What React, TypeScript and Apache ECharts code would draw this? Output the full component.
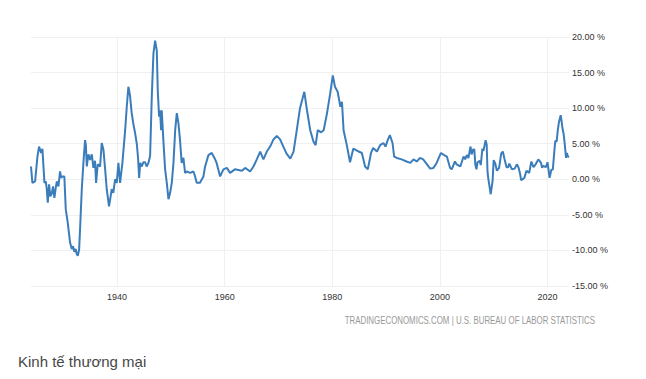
import React, { useEffect, useRef } from "react";
import * as echarts from "echarts";

// Year (decimal) of each reading
const years: number[] = [
  1924.0, 1924.26, 1924.76, 1925.2, 1925.5, 1925.87, 1926.12, 1926.5, 1926.75, 1926.93,
  1927.12, 1927.36, 1927.6, 1927.86, 1928.1, 1928.35, 1928.6, 1928.8, 1929.1, 1929.4,
  1929.6, 1929.83, 1930.2, 1930.46, 1930.83, 1931.26, 1931.58, 1931.8, 1932.06, 1932.3,
  1932.5, 1932.7, 1932.94, 1933.12, 1933.44, 1933.74, 1934.05, 1934.2, 1934.37, 1934.67,
  1934.98, 1935.3, 1935.6, 1935.9, 1936.1, 1936.4, 1936.84, 1937.15, 1937.46, 1937.77,
  1938.08, 1938.5, 1938.7, 1939.0, 1939.3, 1939.63, 1939.94, 1940.25, 1940.56, 1940.99,
  1941.5, 1941.8, 1942.1, 1942.4, 1942.7, 1943.0, 1943.35, 1943.66, 1943.9, 1944.1,
  1944.3, 1944.59, 1944.9, 1945.2, 1945.5, 1945.83, 1946.14, 1946.45, 1946.76, 1947.07,
  1947.38, 1947.56, 1947.81, 1947.99, 1948.18, 1948.3, 1948.6, 1948.93, 1949.24, 1949.55,
  1949.86, 1950.17, 1950.48, 1950.8, 1951.1, 1951.4, 1951.7, 1952.0, 1952.33, 1952.64,
  1952.95, 1953.57, 1954.2, 1954.5, 1954.8, 1955.4, 1956.05, 1956.36, 1956.98, 1957.6,
  1958.1, 1958.5, 1959.15, 1959.77, 1960.4, 1961.0, 1961.9, 1963.2, 1963.8, 1964.73,
  1965.35, 1965.97, 1966.6, 1967.2, 1967.83, 1968.45, 1969.07, 1969.69, 1970.3, 1970.9,
  1971.5, 1972.2, 1972.8, 1973.4, 1974.0, 1974.8, 1975.3, 1975.9, 1976.5, 1976.9,
  1977.3, 1977.9, 1978.4, 1979.0, 1979.6, 1980.1, 1980.5, 1981.0, 1981.5, 1981.8,
  1982.1, 1982.7, 1983.3, 1983.9, 1984.2, 1984.9, 1985.5, 1986.1, 1986.6, 1987.2,
  1987.6, 1988.3, 1988.9, 1989.5, 1989.9, 1990.3, 1990.7, 1991.2, 1991.5, 1992.0,
  1992.9, 1993.8, 1994.5, 1995.1, 1995.7, 1996.3, 1996.9, 1997.6, 1998.2, 1998.8,
  1999.4, 2000.2, 2000.8, 2001.3, 2001.9, 2002.2, 2002.8, 2003.1, 2003.8, 2004.4,
  2004.7, 2005.0, 2005.3, 2005.7, 2005.9, 2006.2, 2006.4, 2006.6, 2006.8, 2007.0,
  2007.4, 2007.6, 2007.9, 2008.1, 2008.5, 2008.7, 2008.85, 2009.0, 2009.45, 2009.8,
  2010.0, 2010.3, 2010.6, 2011.0, 2011.4, 2011.7, 2012.0, 2012.4, 2012.7, 2012.9,
  2013.4, 2013.9, 2014.3, 2014.6, 2014.9, 2015.1, 2015.4, 2015.7, 2016.1, 2016.6,
  2017.0, 2017.4, 2017.8, 2018.3, 2018.8, 2019.0, 2019.2, 2019.7, 2020.0, 2020.4,
  2020.7, 2021.0, 2021.3, 2021.45, 2021.7, 2021.9, 2022.1, 2022.45, 2022.6, 2022.8,
  2023.0, 2023.2, 2023.45, 2023.6, 2023.8, 2024.0,
];

// Inflation rate (%) at each of those dates
const inflation: number[] = [
  1.8, -0.5, -0.3, 3.2, 4.6, 3.7, 4.3, -0.5, -0.3, -1.4,
  -3.3, -0.7, -2.4, -2.0, -1.0, -2.6, -1.2, -0.3, -1.0, 1.1,
  0.2, 0.4, 0.4, -4.2, -6.1, -8.9, -9.8, -9.4, -10.2, -9.8,
  -10.5, -10.75, -9.9, -7.0, -1.4, 2.3, 5.5, 4.8, 1.8, 3.5,
  2.7, 3.5, 1.6, 2.6, -0.5, 2.1, 1.8, 5.1, 4.2, 1.5,
  -1.4, -3.8, -2.9, -1.4, -1.9, 0.0, -0.5, 2.3, -0.5, 2.3,
  6.9, 10.2, 13.0, 11.8, 9.4, 7.9, 6.5, 5.0, 3.0, 0.2,
  2.3, 1.8, 2.4, 2.4, 1.8, 2.3, 3.3, 11.6, 17.7, 19.5,
  18.1, 12.5, 8.8, 9.7, 6.9, 9.7, 5.5, 1.4, -0.5, -2.8,
  -1.9, -0.5, 2.3, 6.9, 9.3, 7.9, 5.5, 2.3, 3.0, 0.9,
  1.1, 0.9, 1.1, 0.4, -0.5, -0.5, 0.4, 1.8, 3.4, 3.7,
  3.0, 2.3, 0.4, 1.4, 1.6, 0.9, 1.4, 1.2, 1.6, 1.1,
  1.8, 2.8, 3.9, 2.8, 3.9, 4.6, 5.6, 6.1, 5.6, 4.6,
  3.6, 2.9, 3.9, 6.9, 10.0, 12.3, 9.7, 6.9, 5.3, 4.8,
  6.9, 6.6, 6.9, 9.2, 12.0, 14.6, 13.0, 12.3, 10.2, 10.9,
  6.9, 4.8, 2.4, 4.3, 4.2, 3.9, 3.7, 1.8, 1.4, 3.7,
  4.4, 3.9, 4.8, 5.1, 4.6, 5.5, 6.2, 5.1, 3.2, 3.0,
  2.8, 2.5, 2.3, 2.8, 2.5, 3.0, 2.8, 2.1, 1.5, 1.6,
  2.3, 3.7, 3.4, 3.2, 1.6, 1.4, 2.5, 2.1, 1.8, 3.2,
  2.8, 3.4, 3.0, 4.6, 3.5, 4.2, 4.2, 2.0, 1.4, 2.4,
  2.6, 2.0, 4.3, 4.0, 5.5, 4.9, 1.1, 0.1, -2.1, -0.2,
  2.7, 2.2, 1.2, 1.6, 3.6, 3.9, 2.9, 1.7, 1.7, 2.2,
  1.4, 1.5, 2.1, 1.7, 0.8, -0.1, 0.0, 0.2, 1.2, 0.9,
  2.5, 1.7, 2.1, 2.8, 2.3, 1.6, 1.9, 1.7, 2.4, 0.2,
  1.3, 1.4, 4.2, 5.4, 5.3, 6.8, 7.9, 9.0, 8.3, 7.1,
  6.4, 5.0, 3.0, 3.7, 3.2, 3.1,
];

const xLabelYears: number[] = [1940, 1960, 1980, 2000, 2020];
const yMin = -15;
const yMax = 20;
const yStep = 5;
const sourceText = "TRADINGECONOMICS.COM | U.S. BUREAU OF LABOR STATISTICS";
const footerTitle = "Kinh tế thương mại";

export default function App() {
  const ref = useRef<HTMLDivElement>(null);

  useEffect(() => {
    if (!ref.current) return;
    const chart = echarts.init(ref.current, null, { renderer: "svg" });
    chart.setOption({
      animation: false,
      backgroundColor: "#ffffff",
      grid: { left: 31, right: 77, top: 37, bottom: 93, containLabel: false },
      xAxis: {
        type: "value",
        min: 1924,
        max: 2024,
        interval: 4,
        axisLine: { show: false },
        axisTick: { show: false },
        splitLine: { show: false },
        axisLabel: {
          margin: 6,
          fontSize: 9,
          color: "#333333",
          fontFamily: "Liberation Sans, Arial, sans-serif",
          showMinLabel: false,
          showMaxLabel: false,
          formatter: (v: number) => (xLabelYears.includes(v) ? String(v) : ""),
        },
      },
      yAxis: {
        type: "value",
        position: "right",
        min: yMin,
        max: yMax,
        interval: yStep,
        axisLine: { show: false },
        axisTick: { show: false },
        splitLine: { show: true, lineStyle: { color: "#f0f0f0", width: 1 } },
        axisLabel: {
          margin: 3,
          fontSize: 9,
          color: "#333333",
          fontFamily: "Liberation Sans, Arial, sans-serif",
          formatter: (v: number) => v.toFixed(2) + " %",
        },
      },
      series: [
        {
          type: "line",
          data: years.map((y, i) => [y, inflation[i]]),
          showSymbol: false,
          symbol: "none",
          lineStyle: { color: "#3b7dbb", width: 2 },
          z: 3,
          markLine: {
            silent: true,
            symbol: ["none", "none"],
            label: { show: false },
            lineStyle: { color: "#f0f0f0", type: "solid", width: 1 },
            data: xLabelYears.map((y) => ({ xAxis: y })),
            z: 1,
          },
        },
      ],
      graphic: [
        {
          type: "text",
          x: 595,
          y: 321,
          scaleX: 0.79,
          style: {
            text: sourceText,
            fill: "#999999",
            fontSize: 10,
            align: "right",
            verticalAlign: "middle",
            fontFamily: "Liberation Sans, Arial, sans-serif",
          },
        },
        {
          type: "text",
          left: 18,
          top: 354,
          style: {
            text: footerTitle,
            fill: "#474747",
            fontSize: 15,
            fontFamily: "Liberation Sans, Arial, sans-serif",
          },
        },
      ],
    });
    return () => chart.dispose();
  }, []);

  return (
    <div
      ref={ref}
      style={{ position: "absolute", left: 0, top: 0, width: 646, height: 379, background: "#fff" }}
    />
  );
}
